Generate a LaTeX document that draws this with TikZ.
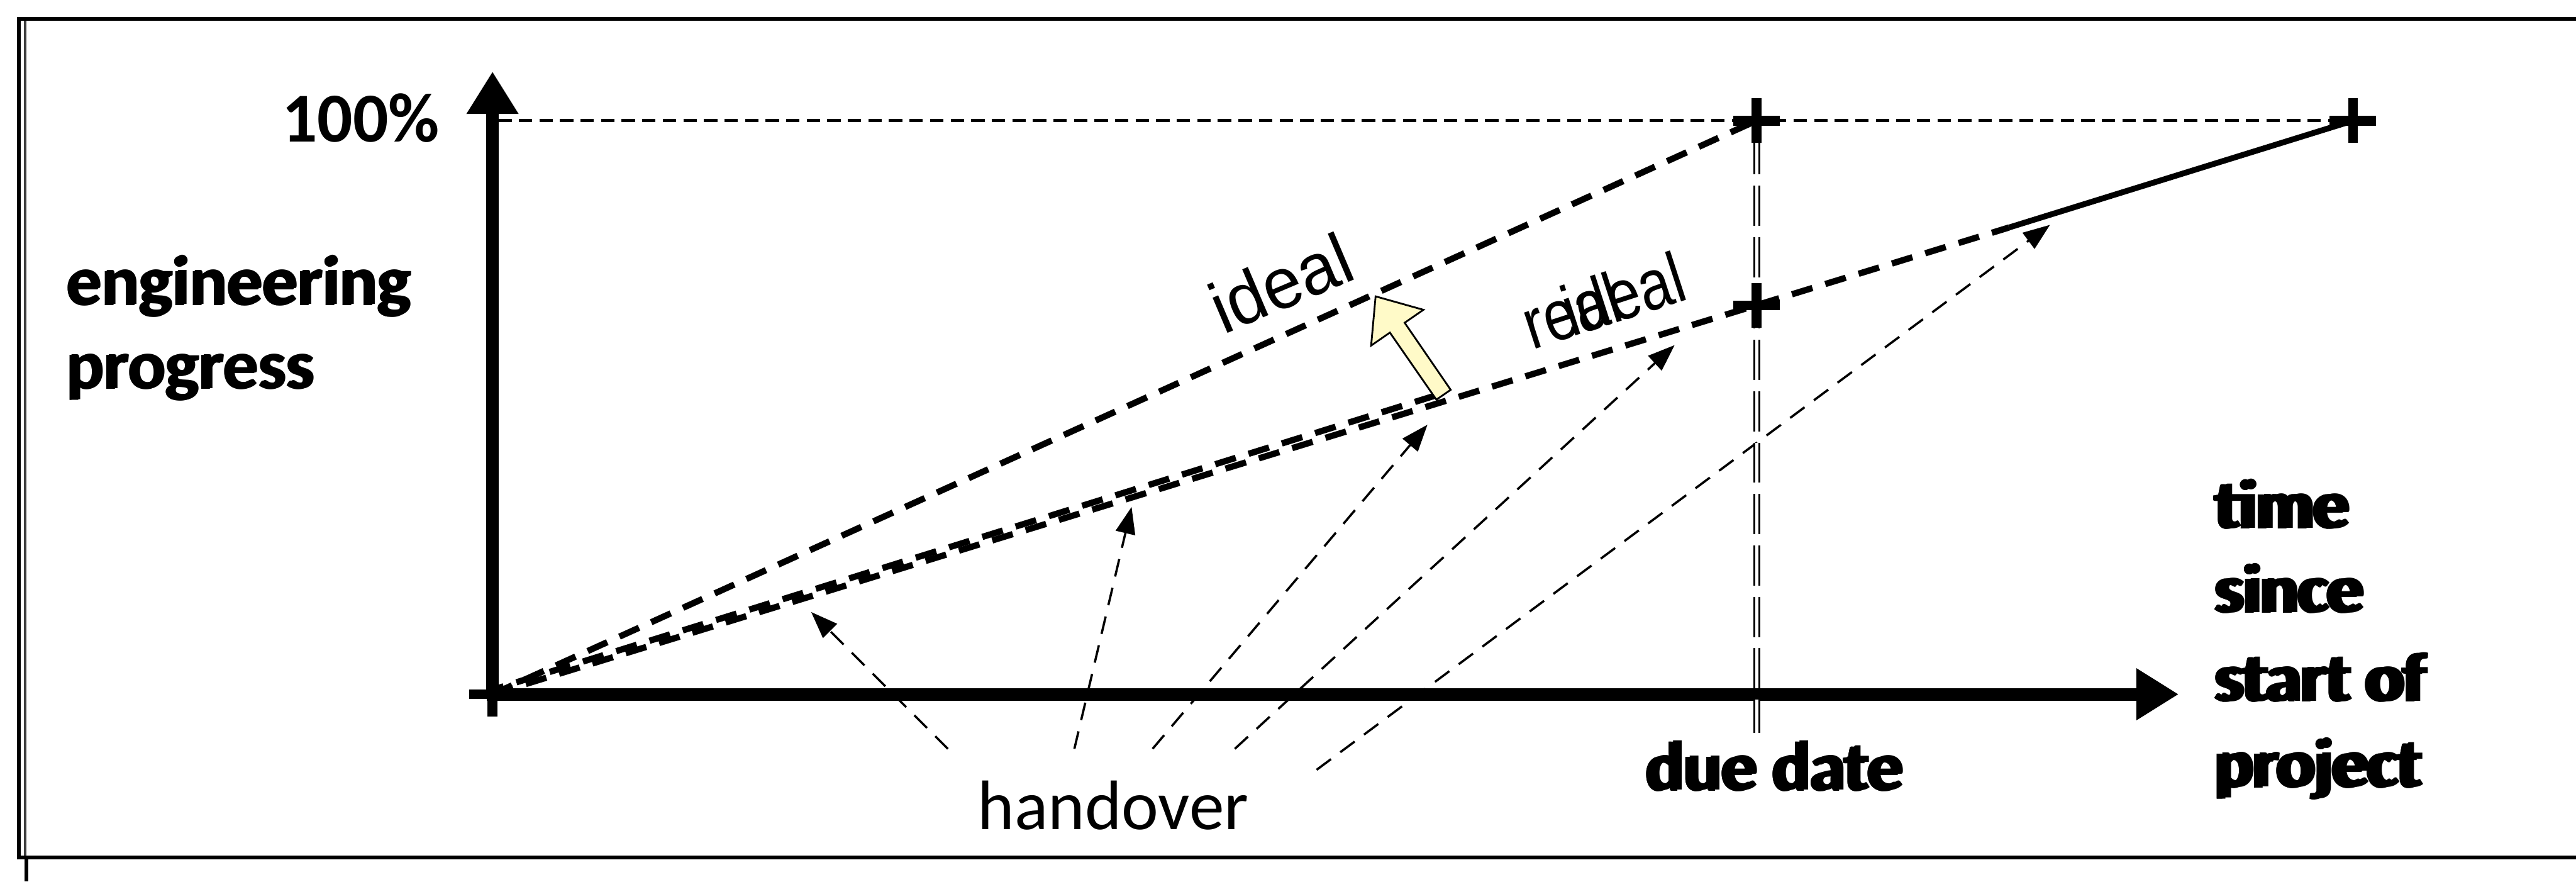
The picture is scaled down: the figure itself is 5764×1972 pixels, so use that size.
\documentclass[tikz,border=0pt]{standalone}
\usepackage{fontspec}
\setmainfont{Carlito}
\newfontfamily\labelsans{Liberation Sans}[FakeStretch=0.82]
\newfontfamily\labelsanswide{Liberation Sans}[FakeStretch=0.96]
\usetikzlibrary{arrows.meta}
\definecolor{hintyellow}{RGB}{255,250,200}
% one drawing unit is 0.05mm
\tikzset{
  frameline/.style={line width=0.4mm},
  axisline/.style={line width=1.4mm, -{Triangle[length=4.75mm,width=5.5mm]}},
  plan/.style={line width=0.7mm, dash pattern=on 2.4mm off 1.5mm},
  refline/.style={line width=0.35mm, dash pattern=on 1.5mm off 0.8mm},
  dueline/.style={draw=black, double=white, double distance=0.35mm, line width=0.2mm, dash pattern=on 4.5mm off 1.25mm},
  handoff/.style={line width=0.25mm, dash pattern=on 2mm off 1.3mm, -{Triangle[length=3mm,width=2.2mm]}},
  hint/.style={fill=hintyellow, draw=black, line width=0.2mm, line join=miter},
  calibri/.style={inner sep=0pt, font=\fontsize{22.3}{26.8}\selectfont},
  calibrib/.style={inner sep=0pt, font=\fontsize{22.3}{26.8}\selectfont\bfseries},
  arialtxt/.style={inner sep=0pt, font=\labelsans\fontsize{22.8}{27}\selectfont},
  arialbig/.style={inner sep=0pt, font=\labelsanswide\fontsize{23}{28}\selectfont},
  pics/plusmark/.style={code={\draw[line width=1.1mm] (-52,0) -- (52,0) (0,-50) -- (0,50);}},
}
% a text printed twice: the second impression is shifted a little and edged in white
\newcommand\echoat[3]{\rlap{\kern#1\raisebox{#2}{#3}}}
\newcommand\echotext[3]{%
  \rlap{#3}%
  \echoat{\dimexpr#1-0.2mm\relax}{#2}{\color{white}#3}%
  \echoat{\dimexpr#1+0.2mm\relax}{#2}{\color{white}#3}%
  \echoat{#1}{\dimexpr#2-0.2mm\relax}{\color{white}#3}%
  \echoat{#1}{\dimexpr#2+0.2mm\relax}{\color{white}#3}%
  \echoat{#1}{#2}{#3}#3}
\begin{document}
\begin{tikzpicture}[x=0.05mm,y=-0.05mm]
\useasboundingbox (0,0) rectangle (5764,1972);

% outer frame
\draw[frameline] (5764,42) -- (42,42) -- (42,1918) -- (5764,1918);
\draw[line width=0.3mm, black!75] (56,46) -- (56,1914);
\draw[frameline] (59,1918) -- (59,1972);

% key points
\coordinate (O) at (1102,1553);
\coordinate (D100) at (3930,270);
\coordinate (Dreal) at (3930,683);
\coordinate (E) at (5265,270);
\coordinate (K) at (4495,509);

% 100% reference line
\draw[refline] (1115,270) -- (E);

% handover arrows
\coordinate (s1) at (2121,1675); \coordinate (t1) at (1815,1369);
\coordinate (s2) at (2404,1675); \coordinate (t2) at (2532,1134);
\coordinate (s3) at (2579,1675); \coordinate (t3) at (3194,950);
\coordinate (s4) at (2763,1675); \coordinate (t4) at (3747,772);
\coordinate (s5) at (2946,1722); \coordinate (t5) at (4587,503);
\foreach \i in {1,...,5} \draw[handoff] (s\i) -- (t\i);

% ideal and real progress
\draw[plan] (O) -- (D100);
\draw[plan] (O) -- (K);
\draw[plan, dash phase=1.1mm] (1102,1543) -- (3240,876);
\draw[line width=0.65mm] (K) -- (E);

% improvement arrow
\draw[hint] (3246,872) -- (3143,722) -- (3185,693) -- (3078,663) -- (3068,773) -- (3110,744) -- (3214,894) -- cycle;

% axes
\draw[axisline] (1102,1560) -- (1102,160);
\draw[axisline] (1089,1553) -- (4875,1553);

% due date line
\draw[dueline] (3931,300) -- (3931,1640);

% marks
\pic at (O) {plusmark};
\pic at (D100) {plusmark};
\pic at (Dreal) {plusmark};
\pic at (E) {plusmark};

% labels
\node[calibrib, anchor=base east] (pct) at (985,318) {100\%};
\node[calibrib, anchor=base west] (eng) at (145,683) {\echotext{0.25mm}{0.1mm}{engineering}};
\node[calibrib, anchor=base west] (prog) at (145,871) {\echotext{0.25mm}{0.1mm}{progress}};
\node[calibri, anchor=base] (handover) at (2491,1855) {handover};
\node[calibrib, anchor=base] (due) at (3966,1770) {\echotext{0.5mm}{0.15mm}{due date}};
\node[calibrib, anchor=base west] (tm1) at (4950,1183) {\echotext{0.65mm}{0.1mm}{time}};
\node[calibrib, anchor=base west] (tm2) at (4950,1372) {\echotext{0.65mm}{0.1mm}{since}};
\node[calibrib, anchor=base west] (tm3) at (4950,1570) {\echotext{0.65mm}{0.1mm}{start of}};
\node[calibrib, anchor=base west] (tm4) at (4950,1762) {\echotext{0.65mm}{0.1mm}{project}};
\node[arialbig, anchor=base west, rotate=23] (ideal) at (2736,750) {ideal};
\node[arialtxt, anchor=base west, rotate=18] (real) at (3428,783) {\rlap{real}\hphantom{re}\kern-0.155em ideal};
\end{tikzpicture}
\end{document}
